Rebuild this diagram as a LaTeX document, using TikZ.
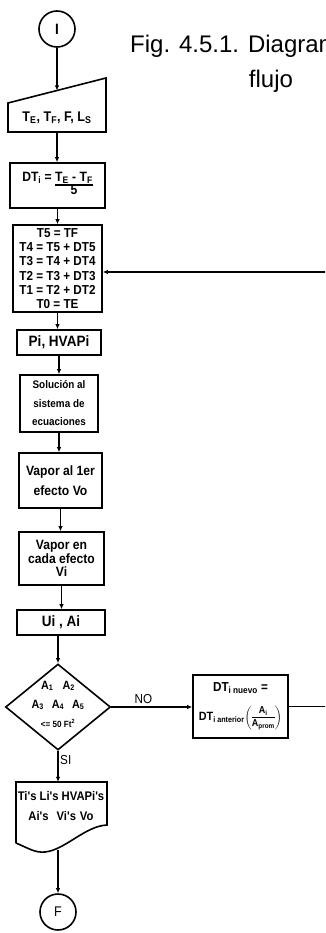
\documentclass[tikz,border=0pt]{standalone}
\usepackage{fontspec}
\setmainfont{Liberation Sans}
\newfontfamily\cf[FakeStretch=0.9]{Liberation Sans}
\usetikzlibrary{arrows.meta,shapes.geometric}
\newcommand{\sbt}[1]{\textsubscript{#1}}
\setlength\arrayrulewidth{1.1pt}
\begin{document}
\begin{tikzpicture}[x=1pt,y=-1pt,
  box/.style={draw, line width=1.6pt, inner sep=0pt, align=center},
  bf/.style={font=\cf\bfseries\fontsize{#1}{#1}\selectfont},
  conn/.style={line width=1.2pt, -{Latex[length=5pt,width=4.5pt]}},
  lab/.style={inner sep=0pt, font=\cf\fontsize{13}{13}\selectfont}]
\useasboundingbox (0,0) rectangle (325,933);
\clip (0,0) rectangle (325,933);
\fill[white] (0,0) rectangle (325,933);

% title
\node[anchor=base west, inner sep=0pt, font=\fontsize{24}{28}\selectfont] (title) at (130,53) {Fig. 4.5.1. Diagrama de};
\node[anchor=base, inner sep=0pt, font=\fontsize{24}{28}\selectfont] (title2) at (271,88) {flujo};

% start
\node[circle, draw, line width=1.6pt, minimum size=36pt, inner sep=0pt, bf=15] (I) at (57,29) {I};

% manual input
\draw[line width=1.6pt] (8,103) -- (106,78) -- (106,132) -- (8,132) -- cycle;
\node[inner sep=0pt, minimum width=98pt, minimum height=28pt, bf=14] (inp) at (57,118)
  {T\sbt{E}, T\sbt{F}, F, L\sbt{S}};
\coordinate (inptop) at (57,90.5);

% DTi
\node[box, minimum width=95pt, minimum height=45pt, bf=13.5] (dt) at (57.5,185.5)
  {DT\sbt{i} = \begin{tabular}[t]{@{}c@{}}T\sbt{E} - T\sbt{F}\\[-1pt]\hline 5\end{tabular}};

% temperatures
\node[box, minimum width=89pt, minimum height=87pt, font=\cf\bfseries\fontsize{13}{14.3}\selectfont] (tt) at (57.5,268.5)
  {T5 = TF\\T4 = T5 + DT5\\T3 = T4 + DT4\\T2 = T3 + DT3\\T1 = T2 + DT2\\T0 = TE};

% Pi HVAPi
\node[box, minimum width=84pt, minimum height=25pt, bf=15] (pi) at (59,342.5) {Pi, HVAPi};

% solucion
\node[box, minimum width=78pt, minimum height=57pt, font=\cf\bfseries\fontsize{11}{18.5}\selectfont] (sol) at (59,403.5)
  {Solución al\\sistema de\\ecuaciones};

% vapor 1er
\node[box, minimum width=83pt, minimum height=55pt, font=\cf\bfseries\fontsize{13.5}{20}\selectfont] (v1) at (60.5,480.5)
  {Vapor al 1er\\efecto Vo};

% vapor cada efecto
\node[box, minimum width=85pt, minimum height=53pt, font=\cf\bfseries\fontsize{13.5}{13.5}\selectfont] (vi) at (61.5,558.5)
  {Vapor en\\cada efecto\\Vi};

% Ui Ai
\node[box, minimum width=88pt, minimum height=25pt, bf=15] (ua) at (61,622.5) {Ui , Ai};

% decision
\node[diamond, draw, line width=1.6pt, minimum width=105pt, minimum height=86pt, inner sep=0pt] (dia) at (58,707) {};
\node[inner sep=0pt, align=center, font=\cf\bfseries\fontsize{12}{19}\selectfont] (diat) at (58,704)
  {A\sbt{1}\hspace{9pt}A\sbt{2}\\A\sbt{3}\hspace{8pt}A\sbt{4}\hspace{8pt}A\sbt{5}\\{\fontsize{9}{9}\selectfont <= 50 Ft\textsuperscript{2}}};

% DT nuevo
\node[box, minimum width=95pt, minimum height=63pt, font=\cf\bfseries\fontsize{13}{13}\selectfont] (dtn) at (240.5,706.5)
  {DT\sbt{i nuevo} =\\[10pt]
   {\fontsize{12}{12}\selectfont DT\sbt{i anterior}}$\left(\mbox{\begin{tabular}{@{}c@{}}\fontsize{10}{11}\selectfont A\sbt{i}\\[-1pt]\hline\fontsize{10}{11}\selectfont A\sbt{prom}\end{tabular}}\right)$};

% output document
\draw[line width=1.6pt] (16,843) -- (16,782) -- (107,782) -- (107,825)
  .. controls (85,826) and (65,850) .. (45,852)
  .. controls (35,853) and (28,848) .. (16,843);
\node[inner sep=0pt, minimum width=91pt, minimum height=68pt] (out) at (61.5,816) {};
\node[inner sep=0pt, align=center, font=\cf\bfseries\fontsize{12.5}{20}\selectfont] (outt) at (61,806)
  {Ti's Li's HVAPi's\\Ai's\hspace{8pt}Vi's\hspace{4pt}Vo};

% end
\node[circle, draw, line width=1.6pt, minimum size=36pt, inner sep=0pt, font=\cf\fontsize{14}{14}\selectfont] (F) at (58,912) {F};

% connectors
\draw[conn] (I.south) -- (inptop);
\draw[conn] (inp.south) -- (inp.south |- dt.north);
\draw[conn] (dt.south -| tt.north) -- (tt.north);
\draw[conn] (tt.south) -- (tt.south |- pi.north);
\draw[conn] (pi.south) -- (pi.south |- sol.north);
\draw[conn] (sol.south) -- (sol.south |- v1.north);
\draw[conn] (v1.south) -- (v1.south |- vi.north);
\draw[conn] (vi.south) -- (vi.south |- ua.north);
\draw[conn] (ua.south -| dia.north) -- (dia.north);
\draw[conn] (dia.east) -- (dia.east -| dtn.west);
\draw[conn] (dia.south) -- (dia.south |- out.north);
\draw[conn] (F.north |- out.south) -- (F.north);

% loop back
\coordinate (lpA) at (330,706.5);
\coordinate (lpB) at (330,272);
\draw[conn] (dtn.east) -- (lpA) -- (lpB) -- (tt.east |- lpB);

% labels
\node[lab, anchor=south] (no) at (143.5,704) {NO};
\node[lab, anchor=west] (si) at (60,760) {SI};
\end{tikzpicture}
\end{document}
